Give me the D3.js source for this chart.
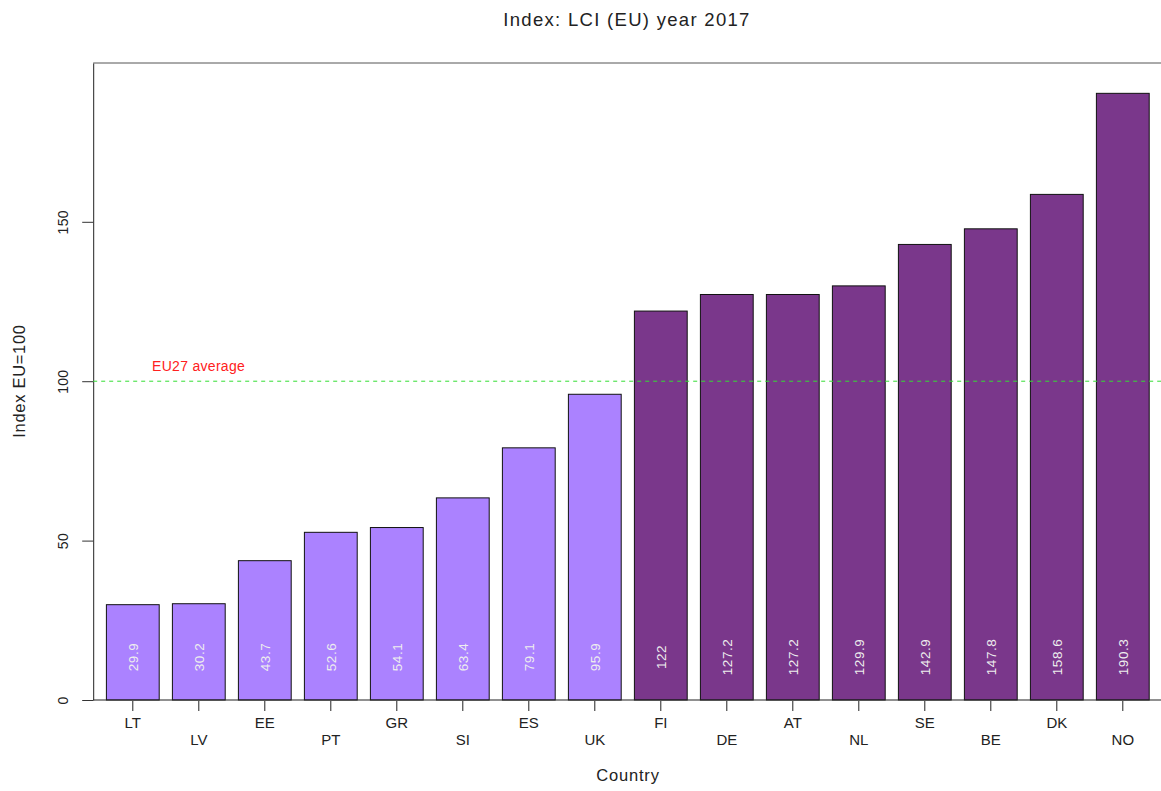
<!DOCTYPE html>
<html>
<head>
<meta charset="utf-8">
<script src="https://cdn.jsdelivr.net/npm/d3@7"></script>
<style>
  body { margin: 0; background: #fff; }
  svg { display: block; font-family: "Liberation Sans", Arial, sans-serif; }
</style>
</head>
<body>
<svg id="chart" width="1161" height="791"></svg>
<script>
const countries = ["LT","LV","EE","PT","GR","SI","ES","UK","FI","DE","AT","NL","SE","BE","DK","NO"];
const values = [29.9,30.2,43.7,52.6,54.1,63.4,79.1,95.9,122,127.2,127.2,129.9,142.9,147.8,158.6,190.3];
const yTicks = [0,50,100,150];
const avgValue = 100;
const titleText = "Index: LCI (EU) year 2017";
const xTitle = "Country";
const yTitle = "Index EU=100";
const avgLabel = "EU27 average";

const svg = d3.select("#chart");
const plotLeft = 93.2, plotTop = 63, plotBottom = 700;
const step = 66;
const plotRight = plotLeft + step * 16.2;

const x = d3.scaleBand().domain(countries).range([plotLeft, plotRight]).paddingInner(0.2).paddingOuter(0.2);
const y = d3.scaleLinear().domain([0, d3.max(values) * 1.05]).range([plotBottom, plotTop]);

const light = "#AB82FF", dark = "#7A378B";

// bars
svg.append("g").selectAll("rect").data(countries).join("rect")
  .attr("x", d => x(d))
  .attr("y", (d, i) => y(values[i]))
  .attr("width", x.bandwidth())
  .attr("height", (d, i) => y(0) - y(values[i]))
  .attr("fill", (d, i) => values[i] < avgValue ? light : dark)
  .attr("stroke", "#111")
  .attr("stroke-width", 1);

// value labels
svg.append("g").selectAll("text").data(countries).join("text")
  .attr("transform", d => `translate(${x(d) + x.bandwidth()/2 + 5},657) rotate(-90)`)
  .attr("text-anchor", "middle")
  .attr("font-size", 13.5)
  .attr("letter-spacing", 0.5)
  .attr("fill", "#eeeeee")
  .text((d, i) => values[i]);

// box lines
svg.append("line").attr("x1", plotLeft).attr("x2", 1161).attr("y1", plotTop).attr("y2", plotTop)
  .attr("stroke", "#555").attr("stroke-width", 1);
svg.append("line").attr("x1", plotLeft).attr("x2", 1161).attr("y1", plotBottom).attr("y2", plotBottom)
  .attr("stroke", "#222").attr("stroke-width", 1.2);

// y axis
const yAxis = d3.axisLeft(y).tickValues(yTicks).tickSize(11).tickSizeOuter(0).tickFormat(d3.format("d"));
const yg = svg.append("g").attr("transform", `translate(${plotLeft},0)`).call(yAxis);
yg.select(".domain").attr("stroke", "#222");
yg.selectAll(".tick line").attr("stroke", "#333");
yg.selectAll(".tick text")
  .attr("font-family", "Liberation Sans, Arial, sans-serif")
  .attr("font-size", 14)
  .attr("letter-spacing", 0.3)
  .attr("fill", "#222")
  .attr("text-anchor", "middle")
  .attr("x", null).attr("dy", null)
  .attr("transform", "translate(-25,0) rotate(-90)");

// x axis
const xAxis = d3.axisBottom(x).tickSize(10).tickSizeOuter(0);
const xg = svg.append("g").attr("transform", `translate(0,${plotBottom + 1})`).call(xAxis);
xg.select(".domain").remove();
xg.selectAll(".tick line").attr("stroke", "#222");
xg.selectAll(".tick text")
  .attr("font-family", "Liberation Sans, Arial, sans-serif")
  .attr("font-size", 15)
  .attr("fill", "#222")
  .attr("dy", null)
  .attr("y", (d, i) => i % 2 === 0 ? 27 : 44);

// average line
svg.append("line")
  .attr("x1", plotLeft).attr("x2", 1161)
  .attr("y1", y(avgValue)).attr("y2", y(avgValue))
  .attr("stroke", "#33dd33").attr("stroke-width", 1)
  .attr("stroke-dasharray", "4,4");
svg.append("text")
  .attr("x", 152).attr("y", y(avgValue) - 10)
  .attr("font-size", 14).attr("letter-spacing", 0.3).attr("fill", "#ff2020")
  .text(avgLabel);

// titles
svg.append("text").attr("x", 627).attr("y", 26).attr("text-anchor", "middle")
  .attr("font-size", 18.5).attr("letter-spacing", 1.3).attr("fill", "#222").text(titleText);
svg.append("text").attr("x", 628).attr("y", 781).attr("text-anchor", "middle")
  .attr("font-size", 16.5).attr("letter-spacing", 0.8).attr("fill", "#222").text(xTitle);
svg.append("text").attr("transform", "translate(25,381) rotate(-90)").attr("text-anchor", "middle")
  .attr("font-size", 16.5).attr("letter-spacing", 0.7).attr("fill", "#222").text(yTitle);
</script>
</body>
</html>
